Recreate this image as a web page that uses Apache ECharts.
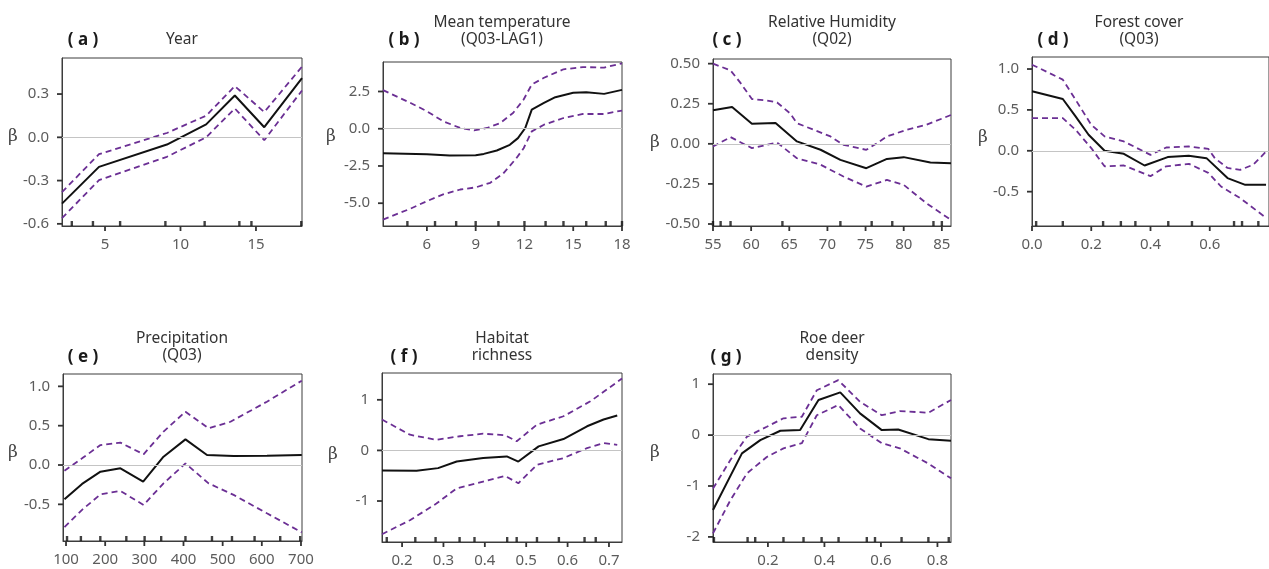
<!DOCTYPE html>
<html>
<head>
<meta charset="utf-8">
<script src="https://cdn.jsdelivr.net/npm/echarts@6/dist/echarts.min.js"></script>
<style>
  html, body { margin: 0; padding: 0; background: #fff; }
  #echarts { width: 1269px; height: 569px; }
</style>
</head>
<body>
<div id="echarts"></div>
<script>
// (a) Year
var aFit = [[2.15,-0.46],[4.6,-0.205],[9.1,-0.05],[11.7,0.09],[13.6,0.29],[15.55,0.07],[18.05,0.41]];
var aUpper = [[2.15,-0.38],[4.6,-0.117],[9.1,0.03],[11.7,0.15],[13.6,0.355],[15.55,0.175],[18.05,0.49]];
var aLower = [[2.15,-0.56],[4.6,-0.297],[9.1,-0.135],[11.7,0.0],[13.6,0.2],[15.55,-0.02],[18.05,0.325]];
var aRug = [2.8,4.2,6.0,9.0,11.6,13.9,14.7,18.0];
var aXTicks = [5,10,15];
var aYTicks = [-0.6,-0.3,0,0.3];

// (b) Mean temperature
var bFit = [[3.3,-1.64],[6,-1.71],[7.4,-1.8],[9,-1.78],[9.5,-1.69],[10.3,-1.46],[11.1,-1.08],[11.6,-0.63],[12.05,0.05],[12.45,1.28],[13.2,1.73],[13.9,2.12],[15,2.41],[15.8,2.45],[16.9,2.34],[18,2.61]];
var bUpper = [[3.3,2.59],[5,1.73],[6,1.17],[7,0.5],[8.05,0.05],[8.9,-0.11],[9.7,0.05],[10.5,0.38],[11.3,1.06],[11.95,1.96],[12.45,2.97],[13.2,3.42],[14.4,3.99],[15.6,4.14],[16.9,4.1],[18,4.39]];
var bLower = [[3.3,-6.1],[5,-5.36],[6,-4.86],[7,-4.41],[8.05,-4.08],[9,-3.94],[9.9,-3.63],[10.7,-3.0],[11.5,-1.98],[11.95,-1.31],[12.45,-0.18],[13.2,0.27],[14.4,0.72],[15.6,0.99],[16.9,0.99],[18,1.22]];
var bRug = [4.8,6.5,7.8,9.0,10.4,12.0,13.3,14.4,15.8,17.0,18.0];
var bXTicks = [6,9,12,15,18];
var bYTicks = [-5,-2.5,0,2.5];

// (c) Relative humidity
var cFit = [[55,0.21],[57.5,0.229],[60.1,0.125],[63.2,0.13],[66,0.015],[69.1,-0.037],[71.7,-0.1],[75.1,-0.152],[77.8,-0.094],[80,-0.083],[83.5,-0.117],[86.2,-0.121]];
var cUpper = [[55,0.5],[57.3,0.458],[58.6,0.38],[60.1,0.279],[62.1,0.27],[63.4,0.258],[65.1,0.19],[66,0.129],[68.2,0.0875],[70.4,0.046],[72.1,-0.006],[75.1,-0.0375],[76.5,0.004],[77.8,0.046],[80.4,0.0875],[83,0.119],[86.2,0.18]];
var cLower = [[55,-0.017],[57.3,0.042],[60.1,-0.027],[63.4,0.008],[66,-0.09],[69.1,-0.13],[72.1,-0.204],[75.1,-0.267],[77.8,-0.225],[80,-0.256],[83,-0.371],[86.2,-0.475]];
var cRug = [55,56,57.3,64.1,71.7,75.8,78.5,83.9,85];
var cXTicks = [55,60,65,70,75,80,85];
var cYTicks = [-0.5,-0.25,0,0.25,0.5];

// (d) Forest cover
var dFit = [[0,0.727],[0.104,0.633],[0.147,0.42],[0.191,0.196],[0.245,0.0],[0.31,-0.037],[0.38,-0.18],[0.458,-0.077],[0.529,-0.061],[0.589,-0.09],[0.66,-0.334],[0.72,-0.417],[0.79,-0.417]];
var dUpper = [[0,1.053],[0.104,0.87],[0.147,0.625],[0.2,0.318],[0.245,0.176],[0.31,0.114],[0.4,-0.05],[0.453,0.04],[0.529,0.053],[0.595,0.024],[0.617,-0.09],[0.66,-0.21],[0.703,-0.233],[0.747,-0.17],[0.79,-0.01]];
var dLower = [[0,0.4],[0.104,0.4],[0.147,0.257],[0.2,0.033],[0.245,-0.19],[0.31,-0.18],[0.4,-0.31],[0.453,-0.19],[0.53,-0.16],[0.595,-0.27],[0.638,-0.437],[0.703,-0.58],[0.79,-0.82]];
var dRug = [0.014,0.104,0.24,0.3,0.349,0.46,0.54,0.682,0.709,0.764];
var dXTicks = [0,0.2,0.4,0.6];
var dYTicks = [-0.5,0,0.5,1];

// (e) Precipitation
var eFit = [[96,-0.436],[141,-0.24],[188,-0.085],[239,-0.042],[297,-0.21],[349,0.106],[405,0.326],[460,0.127],[528,0.114],[613,0.119],[702,0.127]];
var eUpper = [[96,-0.072],[141,0.085],[188,0.254],[239,0.284],[298,0.136],[349,0.424],[405,0.678],[464,0.466],[520,0.55],[613,0.805],[702,1.072]];
var eLower = [[96,-0.79],[141,-0.57],[188,-0.373],[239,-0.33],[298,-0.508],[349,-0.233],[405,0.02],[464,-0.233],[528,-0.38],[613,-0.614],[702,-0.856]];
var eRug = [102.6,138,187.6,254,300.7,343,405,472.7,523.8,581.5,647,698];
var eXTicks = [100,200,300,400,500,600,700];
var eYTicks = [-0.5,0,0.5,1];

// (f) Habitat richness
var fFit = [[0.1515,-0.397],[0.235,-0.404],[0.287,-0.35],[0.332,-0.22],[0.396,-0.152],[0.453,-0.119],[0.481,-0.22],[0.53,0.08],[0.59,0.225],[0.647,0.477],[0.687,0.61],[0.72,0.69]];
var fUpper = [[0.1515,0.61],[0.219,0.31],[0.283,0.21],[0.34,0.28],[0.396,0.33],[0.449,0.3],[0.477,0.18],[0.526,0.51],[0.59,0.675],[0.655,0.97],[0.7315,1.42]];
var fLower = [[0.1515,-1.656],[0.219,-1.38],[0.283,-1.05],[0.332,-0.75],[0.396,-0.616],[0.449,-0.503],[0.481,-0.65],[0.526,-0.285],[0.59,-0.152],[0.647,0.046],[0.687,0.146],[0.72,0.11]];
var fRug = [0.163,0.232,0.281,0.339,0.375,0.454,0.477,0.526,0.579,0.641,0.668];
var fXTicks = [0.2,0.3,0.4,0.5,0.6,0.7];
var fYTicks = [-1,0,1];

// (g) Roe deer density
var gFit = [[0.0056,-1.47],[0.108,-0.36],[0.173,-0.1],[0.244,0.085],[0.314,0.1],[0.379,0.69],[0.456,0.84],[0.526,0.426],[0.603,0.098],[0.661,0.11],[0.768,-0.08],[0.848,-0.11]];
var gUpper = [[0.0056,-1.05],[0.067,-0.49],[0.126,-0.03],[0.196,0.164],[0.255,0.33],[0.32,0.36],[0.373,0.88],[0.449,1.08],[0.526,0.654],[0.603,0.39],[0.667,0.47],[0.768,0.44],[0.848,0.69]];
var gLower = [[0.0056,-1.93],[0.067,-1.28],[0.126,-0.75],[0.196,-0.43],[0.255,-0.26],[0.32,-0.16],[0.373,0.39],[0.449,0.59],[0.526,0.13],[0.603,-0.16],[0.667,-0.26],[0.768,-0.56],[0.848,-0.85]];
var gRug = [0.009,0.128,0.155,0.255,0.326,0.39,0.45,0.55,0.579,0.673,0.768,0.84];
var gXTicks = [0.2,0.4,0.6,0.8];
var gYTicks = [-2,-1,0,1];

var titles = ['Year', 'Mean temperature\n(Q03-LAG1)', 'Relative Humidity\n(Q02)', 'Forest cover\n(Q03)', 'Precipitation\n(Q03)', 'Habitat\nrichness', 'Roe deer\ndensity'];
var letters = ['( a )', '( b )', '( c )', '( d )', '( e )', '( f )', '( g )'];

var fmt0 = function (v) { return String(Math.round(v)); };
var fmt1 = function (v) { return v.toFixed(1); };
var fmt2 = function (v) { return v.toFixed(2); };

// panel layout: plot box, axis ranges, label formats
var panels = [
    { fit: aFit, up: aUpper, lo: aLower, rug: aRug, xt: aXTicks, yt: aYTicks, box: [62, 58, 240, 168], x: [2.15, 18.05], y: [-0.615, 0.55], xf: fmt0, yf: fmt1, title: [182, 48], letter: [83, 40], beta: [13, 137] },
    { fit: bFit, up: bUpper, lo: bLower, rug: bRug, xt: bXTicks, yt: bYTicks, box: [383, 62, 239, 164], x: [3.3, 18], y: [-6.53, 4.48], xf: fmt0, yf: fmt1, title: [502, 48], letter: [404, 40], beta: [331, 137] },
    { fit: cFit, up: cUpper, lo: cLower, rug: cRug, xt: cXTicks, yt: cYTicks, box: [713, 59, 238, 167], x: [55, 86.2], y: [-0.5125, 0.529], xf: fmt0, yf: fmt2, title: [832, 48], letter: [727, 40], beta: [655, 143] },
    { fit: dFit, up: dUpper, lo: dLower, rug: dRug, xt: dXTicks, yt: dYTicks, box: [1032, 57, 244, 169], x: [0, 0.8], y: [-0.92, 1.147], xf: fmt1, yf: fmt1, title: [1139, 48], letter: [1053, 40], beta: [983, 138] },
    { fit: eFit, up: eUpper, lo: eLower, rug: eRug, xt: eXTicks, yt: eYTicks, box: [63, 374, 239, 167], x: [92.3, 702.6], y: [-0.966, 1.157], xf: fmt0, yf: fmt1, title: [182, 364], letter: [83, 357], beta: [13, 453] },
    { fit: fFit, up: fUpper, lo: fLower, rug: fRug, xt: fXTicks, yt: fYTicks, box: [382, 373, 240, 169], x: [0.1515, 0.7315], y: [-1.81, 1.53], xf: fmt1, yf: fmt0, title: [502, 364], letter: [404, 357], beta: [333, 455] },
    { fit: gFit, up: gUpper, lo: gLower, rug: gRug, xt: gXTicks, yt: gYTicks, box: [713, 374, 238, 168], x: [0.0056, 0.848], y: [-2.1, 1.2], xf: fmt1, yf: fmt0, title: [832, 364], letter: [726, 357], beta: [655, 453] }
];

var FONT = 'Noto Sans';
var PURPLE = '#6b2f94';

var grids = [], xAxes = [], yAxes = [], series = [], graphics = [];

panels.forEach(function (p, i) {
    grids.push({
        left: p.box[0], top: p.box[1], width: p.box[2], height: p.box[3],
        show: true, borderColor: '#3c3c3c', borderWidth: 1
    });
    var lineStyle = { show: true, onZero: false, lineStyle: { color: '#3c3c3c', width: 1 } };
    var labelStyle = { color: '#5c5c5c', fontSize: 15, fontFamily: FONT };
    xAxes.push({
        type: 'value', gridIndex: i, min: p.x[0], max: p.x[1], position: 'bottom',
        axisLine: lineStyle, splitLine: { show: false }, axisTick: { show: false },
        axisLabel: Object.assign({ customValues: p.xt, formatter: p.xf, margin: 11 }, labelStyle)
    });
    yAxes.push({
        type: 'value', gridIndex: i, min: p.y[0], max: p.y[1], position: 'left',
        axisLine: lineStyle, splitLine: { show: false }, axisTick: { show: false },
        axisLabel: Object.assign({ customValues: p.yt, formatter: p.yf, margin: 13 }, labelStyle)
    });

    // zero reference line
    series.push({
        type: 'line', xAxisIndex: i, yAxisIndex: i, data: [], z: 1, silent: true,
        markLine: {
            silent: true, symbol: ['none', 'none'], label: { show: false }, animation: false,
            lineStyle: { color: '#c4c4c4', type: 'solid', width: 1 },
            data: [{ yAxis: 0 }]
        }
    });
    [p.up, p.lo].forEach(function (band) {
        series.push({
            type: 'line', xAxisIndex: i, yAxisIndex: i, data: band, symbol: 'none', z: 3,
            lineStyle: { color: PURPLE, width: 1.8, type: [6, 4] }
        });
    });
    series.push({
        type: 'line', xAxisIndex: i, yAxisIndex: i, data: p.fit, symbol: 'none', z: 4,
        lineStyle: { color: '#111', width: 2 }
    });
    // rug of knots on the bottom axis
    series.push({
        type: 'scatter', xAxisIndex: i, yAxisIndex: i, clip: false, z: 5, silent: true,
        data: p.rug.map(function (x) { return [x, p.y[0]]; }),
        symbol: 'rect', symbolSize: [2.4, 5], symbolOffset: [0, -2.5],
        itemStyle: { color: '#111' }
    });

    graphics.push({
        type: 'text', x: p.title[0], y: p.title[1],
        style: { text: titles[i], fill: '#333', font: '15.5px "' + FONT + '"', lineHeight: 17, textAlign: 'center', textVerticalAlign: 'bottom', align: 'center', verticalAlign: 'bottom' }
    });
    graphics.push({
        type: 'text', x: p.letter[0], y: p.letter[1],
        style: { text: letters[i], fill: '#1a1a1a', font: 'bold 17px "' + FONT + '"', textAlign: 'center', textVerticalAlign: 'middle', align: 'center', verticalAlign: 'middle' }
    });
    graphics.push({
        type: 'text', x: p.beta[0], y: p.beta[1],
        style: { text: 'β', fill: '#444', font: '17px "DejaVu Serif"', textAlign: 'center', textVerticalAlign: 'middle', align: 'center', verticalAlign: 'middle' }
    });
});

var myChart = echarts.init(document.getElementById('echarts'));
myChart.setOption({
    animation: false,
    backgroundColor: '#fff',
    grid: grids,
    xAxis: xAxes,
    yAxis: yAxes,
    series: series,
    graphic: graphics
});

// major ticks pointing outwards, placed through each panel's own scales
var ticks = [];
panels.forEach(function (p, i) {
    p.xt.forEach(function (x) {
        var pt = myChart.convertToPixel({ gridIndex: i }, [x, p.y[0]]);
        ticks.push({ type: 'rect', z: 100, silent: true, shape: { x: pt[0] - 0.9, y: pt[1], width: 1.8, height: 5 }, style: { fill: '#333' } });
    });
    p.yt.forEach(function (y) {
        var pt = myChart.convertToPixel({ gridIndex: i }, [p.x[0], y]);
        ticks.push({ type: 'rect', z: 100, silent: true, shape: { x: pt[0] - 5, y: pt[1] - 0.9, width: 5, height: 1.8 }, style: { fill: '#333' } });
    });
});
myChart.setOption({ graphic: graphics.concat(ticks) });
</script>
</body>
</html>
